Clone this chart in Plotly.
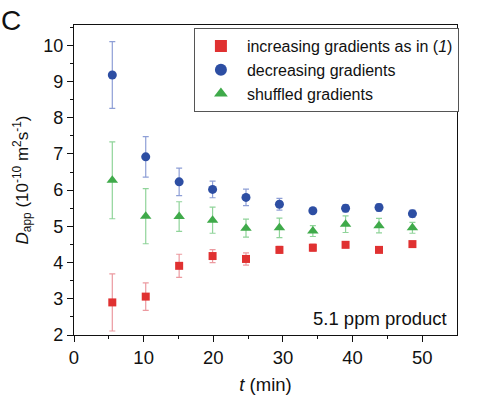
import plotly.graph_objects as go

t_min = [5.5, 10.3, 15.1, 19.9, 24.7, 29.5, 34.3, 39.0, 43.8, 48.6]

inc_vals = [2.90, 3.06, 3.91, 4.18, 4.10, 4.35, 4.41, 4.49, 4.35, 4.51]
inc_err = [0.79, 0.38, 0.32, 0.18, 0.17, 0.10, 0.10, 0.08, 0.03, 0.05]

dec_vals = [9.18, 6.92, 6.23, 6.02, 5.80, 5.61, 5.43, 5.50, 5.52, 5.35]
dec_err = [0.92, 0.56, 0.38, 0.23, 0.23, 0.16, 0.05, 0.10, 0.10, 0.10]

shuf_vals = [6.27, 5.28, 5.27, 5.17, 4.95, 4.96, 4.87, 5.06, 5.02, 4.96]
shuf_err = [1.06, 0.76, 0.41, 0.36, 0.25, 0.27, 0.15, 0.23, 0.20, 0.15]

names = ["increasing gradients as in (<i>1</i>)", "decreasing gradients", "shuffled gradients"]

FONT = "Liberation Sans, Arial, sans-serif"

fig = go.Figure()

specs = [
    (inc_vals, inc_err, "square", "#e03131", "#ec9aa0", 8),
    (dec_vals, dec_err, "circle", "#2d4ea3", "#8e9fd6", 9),
    (shuf_vals, shuf_err, "triangle-up", "#3faa4a", "#90d49a", 10),
]
for name, (vals, err, sym, col, ecol, sz) in zip(names, specs):
    fig.add_trace(go.Scatter(
        x=t_min, y=vals, mode="markers", name=name,
        marker=dict(symbol=sym, color=col, size=sz, line=dict(width=0)),
        error_y=dict(type="data", array=err, visible=True, color=ecol,
                     thickness=1.2, width=3),
    ))

fig.update_layout(
    width=477, height=397,
    margin=dict(l=74, r=20, t=25, b=62, autoexpand=False),
    paper_bgcolor="white", plot_bgcolor="white",
    font=dict(family=FONT, color="#111", size=18),
    showlegend=True,
    legend=dict(
        x=1.005, y=0.99, xanchor="right", yanchor="top",
        bgcolor="white", bordercolor="#555", borderwidth=1,
        font=dict(size=16, family=FONT, color="#111"),
        itemsizing="constant", tracegroupgap=0, itemwidth=42,
    ),
    xaxis=dict(
        range=[0, 55], tickmode="array", tickvals=[0, 10, 20, 30, 40, 50],
        ticks="outside", ticklen=6, tickwidth=1.2, tickcolor="#111",
        showline=True, linecolor="#111", linewidth=1.2, mirror=True,
        showgrid=False, zeroline=False,
        minor=dict(tickvals=[5, 15, 25, 35, 45], ticks="outside", ticklen=3,
                   tickwidth=1.2, tickcolor="#111"),
        tickfont=dict(size=18.5),
        title=dict(text="<i>t</i> (min)", font=dict(size=18.5), standoff=10),
    ),
    yaxis=dict(
        range=[2, 10.56], tickmode="array", tickvals=[2, 3, 4, 5, 6, 7, 8, 9, 10],
        ticks="outside", ticklen=6, tickwidth=1.2, tickcolor="#111",
        showline=True, linecolor="#111", linewidth=1.2, mirror=True,
        showgrid=False, zeroline=False,
        minor=dict(tickvals=[2.5, 3.5, 4.5, 5.5, 6.5, 7.5, 8.5, 9.5, 10.5],
                   ticks="outside", ticklen=3, tickwidth=1.2, tickcolor="#111"),
        tickfont=dict(size=18),
        title=dict(text="<i>D</i><sub>app</sub> (10<sup>-10</sup> m<sup>2</sup>s<sup>-1</sup>)",
                   font=dict(size=17), standoff=10),
    ),
    annotations=[
        dict(text="5.1 ppm product", xref="paper", yref="paper", x=0.98, y=0.012,
             xanchor="right", yanchor="bottom", showarrow=False,
             font=dict(size=18.5, family=FONT, color="#111")),
        dict(text="C", xref="paper", yref="paper", x=-0.195, y=1.07,
             xanchor="left", yanchor="top", showarrow=False,
             font=dict(size=28, family=FONT, color="#111")),
    ],
)

fig.write_html("out.html", config={"displayModeBar": False},
               post_script="document.body.style.margin='0';")
